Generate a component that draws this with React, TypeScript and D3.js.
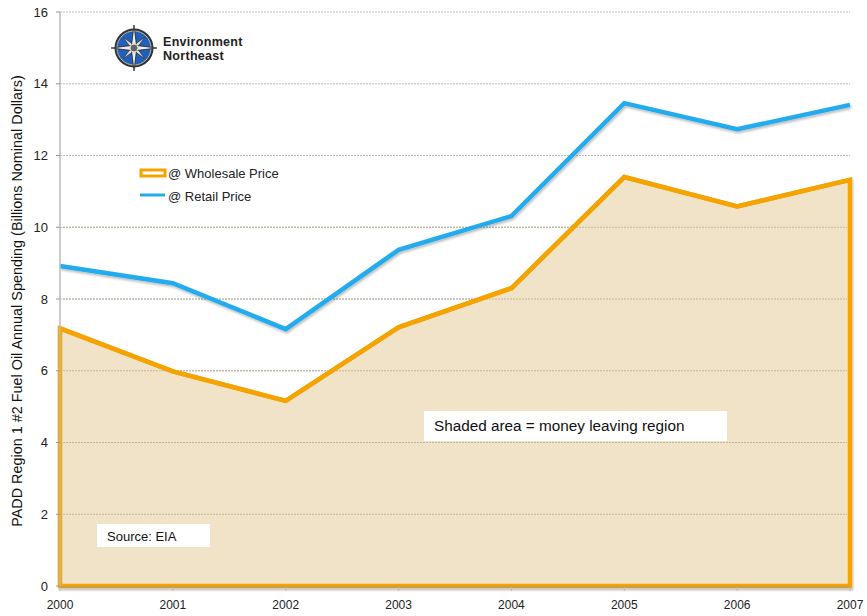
import React, { useEffect, useRef } from 'react';
import * as d3 from 'd3';

const years = [2000, 2001, 2002, 2003, 2004, 2005, 2006, 2007];
const wholesale = [7.18, 5.98, 5.16, 7.21, 8.3, 11.4, 10.58, 11.32];
const retail = [8.92, 8.44, 7.16, 9.37, 10.31, 13.46, 12.73, 13.41];
const yTicks = [0, 2, 4, 6, 8, 10, 12, 14, 16];

export default function App() {
  const svgRef = useRef<SVGSVGElement>(null);

  useEffect(() => {
    document.body.style.margin = '0';
    if (!svgRef.current) return;
    const svg = d3.select(svgRef.current);
    svg.selectAll('*').remove();

    const font = 'Liberation Sans, Arial, sans-serif';
    const left = 60, right = 850, top = 12, bottom = 586;

    const x = d3.scaleLinear().domain([2000, 2007]).range([left, right]);
    const y = d3.scaleLinear().domain([0, 16]).range([bottom, top]);

    const defs = svg.append('defs');
    const f = defs.append('filter').attr('id', 'sh').attr('x', '-5%').attr('y', '-5%').attr('width', '110%').attr('height', '110%');
    f.append('feDropShadow').attr('dx', 1).attr('dy', 2).attr('stdDeviation', 1.2).attr('flood-color', '#000').attr('flood-opacity', 0.25);

    // gridlines
    svg.append('g')
      .selectAll('line')
      .data(yTicks.filter(d => d > 0))
      .enter()
      .append('line')
      .attr('x1', left)
      .attr('x2', right)
      .attr('y1', d => y(d))
      .attr('y2', d => y(d))
      .style('stroke', '#aaa')
      .style('stroke-width', 0.8)
      .style('stroke-dasharray', '2,1');

    // shaded area
    const area = d3.area<number>()
      .x((d, i) => x(years[i]))
      .y0(y(0))
      .y1(d => y(d));

    svg.append('path')
      .datum(wholesale)
      .attr('d', area)
      .style('fill', '#F1E3C7')
      .style('stroke', '#F5A300')
      .style('stroke-width', 4.5)
      .style('stroke-linejoin', 'miter')
      .style('filter', 'url(#sh)');

    // gridlines show through the shaded area
    svg.append('g')
      .selectAll('line')
      .data(yTicks.filter(d => d > 0 && d < 12))
      .enter()
      .append('line')
      .attr('x1', left + 3)
      .attr('x2', right - 3)
      .attr('y1', d => y(d))
      .attr('y2', d => y(d))
      .style('stroke', '#b8ab95')
      .style('stroke-width', 0.8)
      .style('stroke-dasharray', '2,1');

    const line = d3.line<number>()
      .x((d, i) => x(years[i]))
      .y(d => y(d));

    svg.append('path')
      .datum(wholesale)
      .attr('d', line)
      .style('fill', 'none')
      .style('stroke', '#F5A300')
      .style('stroke-width', 4.5);

    svg.append('path')
      .datum(retail)
      .attr('d', line)
      .style('fill', 'none')
      .style('stroke', '#22ACEE')
      .style('stroke-width', 4.5)
      .style('filter', 'url(#sh)');

    // axes
    svg.append('line')
      .attr('x1', left).attr('x2', left)
      .attr('y1', top).attr('y2', bottom)
      .style('stroke', '#bbb').style('stroke-width', 1.5);
    svg.append('line')
      .attr('x1', left).attr('x2', right)
      .attr('y1', bottom + 1).attr('y2', bottom + 1)
      .style('stroke', '#999').style('stroke-width', 1);

    const yl = svg.append('g');
    yTicks.forEach(t => {
      yl.append('line')
        .attr('x1', left - 4).attr('x2', left)
        .attr('y1', y(t)).attr('y2', y(t))
        .style('stroke', '#999');
      yl.append('text')
        .attr('x', 48)
        .attr('y', y(t) + 4.5)
        .attr('text-anchor', 'end')
        .style('font-family', font)
        .style('font-size', '13px')
        .style('fill', '#222')
        .text(t);
    });

    const xl = svg.append('g');
    years.forEach(yr => {
      xl.append('line')
        .attr('x1', x(yr)).attr('x2', x(yr))
        .attr('y1', bottom + 1).attr('y2', bottom + 5)
        .style('stroke', '#bbb');
      xl.append('text')
        .attr('x', x(yr))
        .attr('y', 609)
        .attr('text-anchor', 'middle')
        .style('font-family', font)
        .style('font-size', '12px')
        .style('fill', '#222')
        .text(yr);
    });

    // y title
    svg.append('text')
      .attr('transform', `translate(22,${(top + bottom) / 2 + 2}) rotate(-90)`)
      .attr('text-anchor', 'middle')
      .style('font-family', font)
      .style('font-size', '14.4px')
      .style('fill', '#111')
      .text('PADD Region 1 #2 Fuel Oil Annual Spending (Billions Nominal Dollars)');

    // legend
    const lg = svg.append('g');
    lg.append('rect')
      .attr('x', 141).attr('y', 170).attr('width', 24).attr('height', 6)
      .style('fill', '#fff').style('stroke', '#F5A300').style('stroke-width', 3);
    lg.append('text')
      .attr('x', 168).attr('y', 178)
      .style('font-family', font).style('font-size', '13px').style('fill', '#222')
      .text('@ Wholesale Price');
    lg.append('line')
      .attr('x1', 140).attr('x2', 165).attr('y1', 195).attr('y2', 195)
      .style('stroke', '#22ACEE').style('stroke-width', 3);
    lg.append('text')
      .attr('x', 168).attr('y', 201)
      .style('font-family', font).style('font-size', '13px').style('fill', '#222')
      .text('@ Retail Price');

    // annotation boxes
    svg.append('rect')
      .attr('x', 424).attr('y', 411).attr('width', 303).attr('height', 30)
      .style('fill', '#fff');
    svg.append('text')
      .attr('x', 434).attr('y', 431)
      .style('font-family', font).style('font-size', '15.3px').style('fill', '#111')
      .text('Shaded area = money leaving region');

    svg.append('rect')
      .attr('x', 97).attr('y', 524).attr('width', 113).attr('height', 23)
      .style('fill', '#fff');
    svg.append('text')
      .attr('x', 107).attr('y', 541)
      .style('font-family', font).style('font-size', '13px').style('fill', '#111')
      .text('Source: EIA');

    // logo
    const logo = svg.append('g').attr('transform', 'translate(134,48)');
    logo.append('circle').attr('r', 19.5).style('fill', '#333');
    logo.append('circle').attr('r', 17).style('fill', '#2060B8').style('stroke', '#bbb').style('stroke-width', 1);
    const star = (r1: number, r2: number, n: number, rot: number) => {
      const pts: [number, number][] = [];
      for (let i = 0; i < n * 2; i++) {
        const a = rot + (Math.PI * i) / n;
        const r = i % 2 === 0 ? r1 : r2;
        pts.push([Math.sin(a) * r, -Math.cos(a) * r]);
      }
      return d3.line()(pts) + 'Z';
    };
    logo.append('path').attr('d', star(15, 3, 4, Math.PI / 4)).style('fill', '#ddd').style('stroke', '#333').style('stroke-width', 0.7);
    logo.append('path').attr('d', star(23, 3.5, 4, 0)).style('fill', '#eee').style('stroke', '#222').style('stroke-width', 0.8);
    logo.append('circle').attr('r', 4).style('fill', '#666').style('stroke', '#ddd').style('stroke-width', 1);
    logo.append('text').attr('x', 29).attr('y', -2.5)
      .style('font-family', font).style('font-size', '12.5px').style('font-weight', 'bold')
      .style('letter-spacing', '0.3px').style('fill', '#222')
      .text('Environment');
    logo.append('text').attr('x', 29).attr('y', 11.5)
      .style('font-family', font).style('font-size', '12.5px').style('font-weight', 'bold')
      .style('letter-spacing', '0.3px').style('fill', '#222')
      .text('Northeast');
  }, []);

  return <svg ref={svgRef} width={867} height={616} style={{ display: 'block', background: '#fff' }} />;
}
